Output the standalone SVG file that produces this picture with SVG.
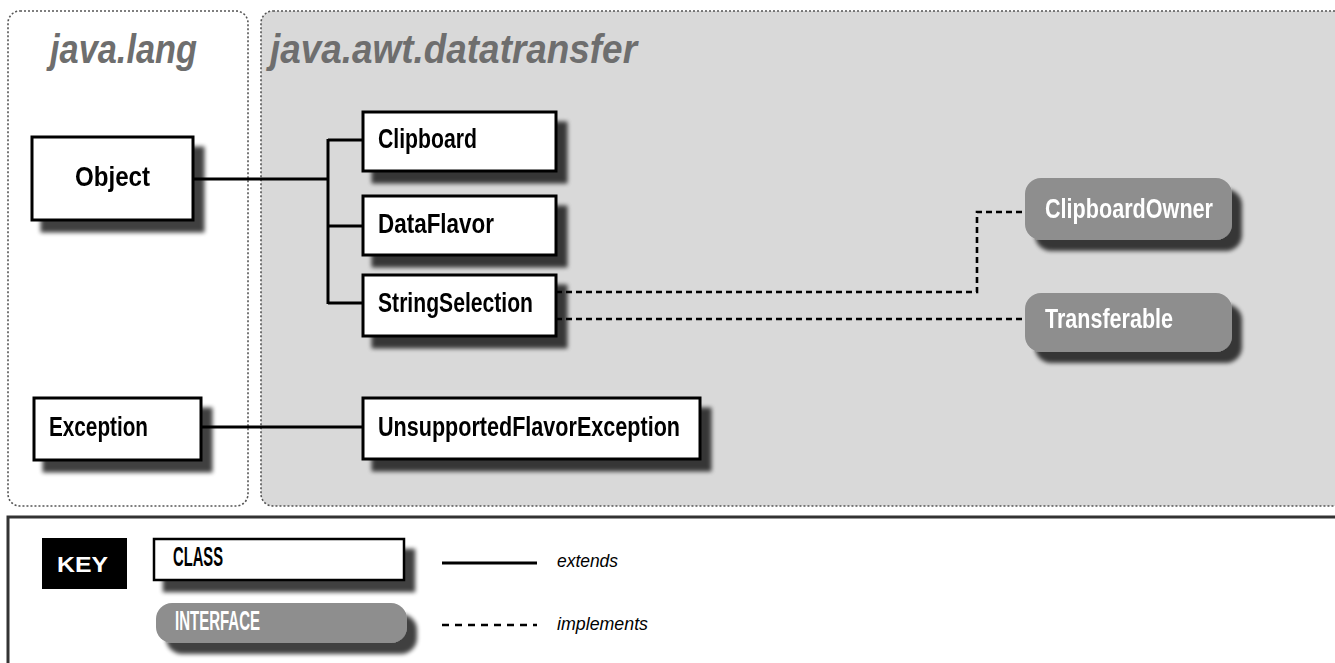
<svg xmlns="http://www.w3.org/2000/svg" width="1335" height="663" viewBox="0 0 1335 663">
<style>
.pkg{stroke:#555;stroke-width:1.6;stroke-dasharray:2 2}
.pkgt{font-family:"Liberation Sans Narrow","Liberation Sans",sans-serif;font-weight:bold;font-style:italic;font-size:41px;fill:#6e6e6e}
.cls{fill:#fff;stroke:#000;stroke-width:3}
.ifc{fill:#8e8e8e}
.ct{font-family:"Liberation Sans Narrow","Liberation Sans",sans-serif;font-weight:bold;font-size:27px;fill:#000}
.it{font-family:"Liberation Sans Narrow","Liberation Sans",sans-serif;font-weight:bold;font-size:27px;fill:#fff}
.ext{fill:none;stroke:#000;stroke-width:3}
.imp{fill:none;stroke:#000;stroke-width:2.6;stroke-dasharray:6 4}
.kt{font-family:"Liberation Sans Narrow","Liberation Sans",sans-serif;font-style:italic;font-size:19px;fill:#000}
</style>
<defs>
<filter id="sh" x="-10%" y="-10%" width="130%" height="150%">
<feOffset in="SourceAlpha" dx="10" dy="11" result="o"/>
<feGaussianBlur in="o" stdDeviation="2" result="b"/>
<feComponentTransfer in="b" result="c"><feFuncA type="linear" slope="0.75"/></feComponentTransfer>
<feMerge><feMergeNode in="c"/><feMergeNode in="SourceGraphic"/></feMerge>
</filter>
</defs>
<rect width="1335" height="663" fill="#fff"/>
<g id="pkg-java-lang">
<rect class="pkg" x="8" y="11" width="240" height="495" rx="12" fill="#fff"/>
<text class="pkgt" x="50" y="63" textLength="147" lengthAdjust="spacingAndGlyphs">java.lang</text>
</g>
<g id="pkg-datatransfer">
<rect class="pkg" x="261" y="11" width="1090" height="495" rx="12" fill="#d9d9d9"/>
<text class="pkgt" x="270" y="63" textLength="367" lengthAdjust="spacingAndGlyphs">java.awt.datatransfer</text>
</g>
<g id="connectors">
<polyline class="ext" points="193,179 328,179"/>
<polyline class="ext" points="328,139 328,304"/>
<polyline class="ext" points="328,140 363,140"/>
<polyline class="ext" points="328,226 363,226"/>
<polyline class="ext" points="328,303 363,303"/>
<polyline class="ext" points="201,427 363,427"/>
<polyline class="imp" points="556,292 977,292 977,212 1025,212"/>
<polyline class="imp" points="556,319 1025,319"/>
</g>
<g id="Object" filter="url(#sh)">
<rect class="cls" x="32" y="137" width="161" height="83"/>
<text class="ct" x="75" y="186" textLength="75" lengthAdjust="spacingAndGlyphs">Object</text>
</g>
<g id="Clipboard" filter="url(#sh)">
<rect class="cls" x="363" y="112" width="193" height="59"/>
<text class="ct" x="378" y="148" textLength="99" lengthAdjust="spacingAndGlyphs">Clipboard</text>
</g>
<g id="DataFlavor" filter="url(#sh)">
<rect class="cls" x="363" y="196" width="193" height="59"/>
<text class="ct" x="378" y="233" textLength="116" lengthAdjust="spacingAndGlyphs">DataFlavor</text>
</g>
<g id="StringSelection" filter="url(#sh)">
<rect class="cls" x="363" y="275" width="193" height="61"/>
<text class="ct" x="378" y="312" textLength="155" lengthAdjust="spacingAndGlyphs">StringSelection</text>
</g>
<g id="Exception" filter="url(#sh)">
<rect class="cls" x="34" y="398" width="167" height="62"/>
<text class="ct" x="49" y="436" textLength="99" lengthAdjust="spacingAndGlyphs">Exception</text>
</g>
<g id="UnsupportedFlavorException" filter="url(#sh)">
<rect class="cls" x="363" y="398" width="337" height="61"/>
<text class="ct" x="378" y="436" textLength="302" lengthAdjust="spacingAndGlyphs">UnsupportedFlavorException</text>
</g>
<g id="ClipboardOwner" filter="url(#sh)">
<rect class="ifc" x="1025" y="178" width="207" height="62" rx="16"/>
<text class="it" x="1045" y="218" textLength="168" lengthAdjust="spacingAndGlyphs">ClipboardOwner</text>
</g>
<g id="Transferable" filter="url(#sh)">
<rect class="ifc" x="1025" y="293" width="207" height="59" rx="16"/>
<text class="it" x="1045" y="328" textLength="128" lengthAdjust="spacingAndGlyphs">Transferable</text>
</g>
<g id="key">
<polyline points="8,663 8,517 1335,517" fill="none" stroke="#333" stroke-width="3"/>
<rect x="42" y="538" width="85" height="51" fill="#000"/>
<text x="57" y="572" font-family="'Liberation Sans',sans-serif" font-weight="bold" font-size="22" fill="#fff" textLength="51" lengthAdjust="spacingAndGlyphs">KEY</text>
<g filter="url(#sh)">
<rect x="154" y="539" width="250" height="41" fill="#fff" stroke="#000" stroke-width="2.5"/>
</g>
<text class="ct" x="173" y="566" font-size="19" textLength="50" lengthAdjust="spacingAndGlyphs">CLASS</text>
<g filter="url(#sh)">
<rect class="ifc" x="156" y="603" width="251" height="40" rx="16"/>
</g>
<text class="it" x="175" y="630" font-size="19" textLength="85" lengthAdjust="spacingAndGlyphs">INTERFACE</text>
<line x1="442" y1="563" x2="537" y2="563" stroke="#000" stroke-width="3"/>
<line x1="442" y1="625" x2="537" y2="625" stroke="#000" stroke-width="2.6" stroke-dasharray="7 6"/>
<text class="kt" x="557" y="567" textLength="61" lengthAdjust="spacingAndGlyphs">extends</text>
<text class="kt" x="557" y="630" textLength="91" lengthAdjust="spacingAndGlyphs">implements</text>
</g>
</svg>
